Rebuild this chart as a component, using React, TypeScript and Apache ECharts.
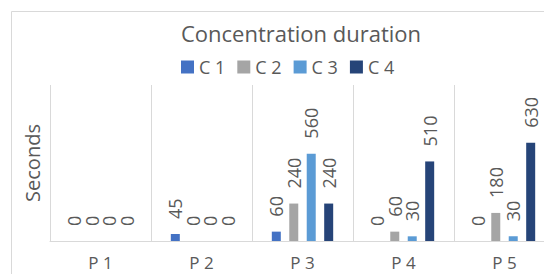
import React, { useEffect, useRef } from "react";
import * as echarts from "echarts";

const categories = ["P 1", "P 2", "P 3", "P 4", "P 5"];
const seriesNames = ["C 1", "C 2", "C 3", "C 4"];
const c1 = [0, 45, 60, 0, 0];
const c2 = [0, 0, 240, 60, 180];
const c3 = [0, 0, 560, 30, 30];
const c4 = [0, 0, 240, 510, 630];
const colors = ["#4472C4", "#A5A5A5", "#5B9BD5", "#264478"];

const FONT = "'Open Sans', sans-serif";
const TEXT = "#595959";
const GRID = "#D9D9D9";

export default function App() {
  const ref = useRef<HTMLDivElement>(null);
  useEffect(() => {
    if (!ref.current) return;
    const chart = echarts.init(ref.current, null, { renderer: "svg" });
    const values = [c1, c2, c3, c4];
    chart.setOption({
      animation: false,
      backgroundColor: "#ffffff",
      textStyle: { fontFamily: FONT },
      title: {
        text: "Concentration duration",
        left: 296,
        textAlign: "center",
        top: 17,
        textStyle: { fontFamily: FONT, fontSize: 22, fontWeight: "normal", color: TEXT },
      },
      legend: {
        data: seriesNames,
        left: 181,
        top: 58,
        padding: 0,
        icon: "rect",
        itemWidth: 13,
        itemHeight: 13,
        itemGap: 12,
        textStyle: { fontFamily: FONT, fontSize: 18, color: TEXT },
      },
      graphic: [
        {
          type: "rect",
          shape: { x: 11.5, y: 11.5, width: 600, height: 400 },
          style: { fill: "none", stroke: GRID, lineWidth: 1 },
          silent: true,
        },
      ],
      grid: {
        left: 50,
        top: 85,
        width: 505,
        height: 156,
        containLabel: false,
        outerBoundsMode: "none",
      },
      xAxis: {
        type: "category",
        data: categories,
        axisLine: { show: true, lineStyle: { color: GRID, width: 1 } },
        axisTick: { show: false },
        splitLine: { show: true, lineStyle: { color: GRID, width: 1 } },
        axisLabel: { fontFamily: FONT, fontSize: 17, color: TEXT, margin: 13 },
      },
      yAxis: {
        type: "value",
        min: 0,
        max: 1000,
        name: "Seconds",
        nameLocation: "middle",
        nameGap: 8,
        nameTextStyle: { fontFamily: FONT, fontSize: 20, color: TEXT },
        axisLine: { show: false },
        axisTick: { show: false },
        axisLabel: { show: false },
        splitLine: { show: false },
      },
      series: seriesNames.map((name, i) => ({
        name,
        type: "bar",
        data: values[i],
        barWidth: 9,
        barGap: "94%",
        itemStyle: { color: colors[i] },
        label: {
          show: true,
          position: "top",
          rotate: 90,
          align: "left",
          verticalAlign: "middle",
          distance: 15,
          fontFamily: FONT,
          fontSize: 18,
          color: TEXT,
        },
      })),
    });
    return () => chart.dispose();
  }, []);
  return (
    <div
      ref={ref}
      style={{ position: "fixed", left: 0, top: 0, width: 544, height: 274 }}
    />
  );
}
